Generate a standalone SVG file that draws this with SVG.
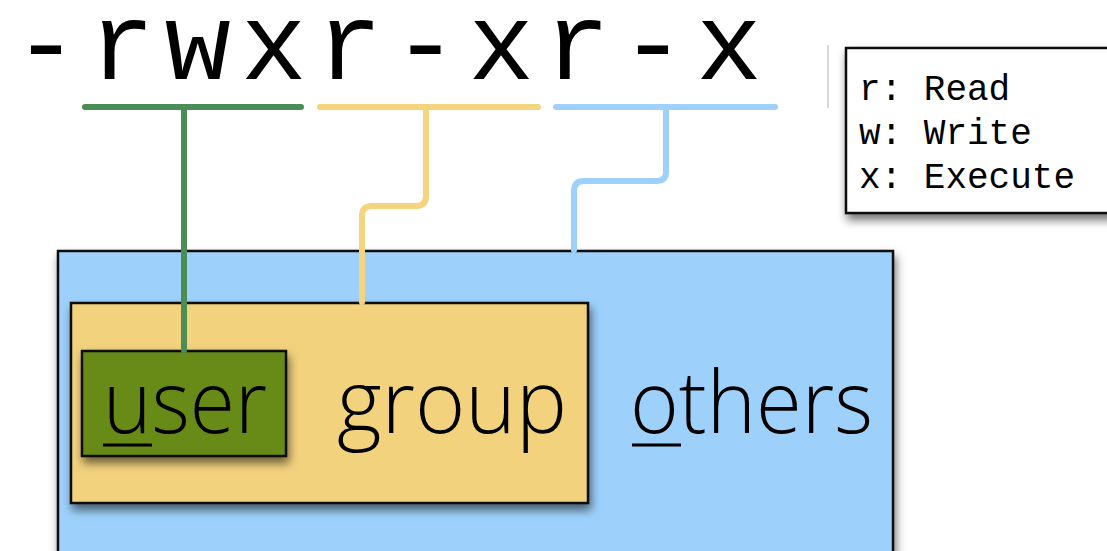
<svg xmlns="http://www.w3.org/2000/svg" width="1107" height="551" viewBox="0 0 1107 551">
<defs>
<filter id="sh" x="-10%" y="-10%" width="130%" height="140%">
<feDropShadow dx="2" dy="6" stdDeviation="5" flood-color="#000" flood-opacity="0.55"/>
</filter>
<style>
.box{stroke:#111;stroke-width:2.5}
.lbl{font-family:"Open Sans","Noto Sans",sans-serif;font-weight:300;font-size:86px;fill:#000}
.mono{font-family:"Liberation Mono","Courier New",monospace;fill:#000}
.bar{fill:none;stroke-width:6;stroke-linecap:round;stroke-linejoin:round}
.ul{stroke:#000;stroke-width:3}
</style>
</defs>
<rect width="1107" height="551" fill="#fff"/>
<text class="mono" x="13" y="79" font-size="110" textLength="749" lengthAdjust="spacing">-rwxr-xr-x</text>
<line x1="828" y1="45" x2="828" y2="108" stroke="#ccc" stroke-width="1.5"/>
<g id="legend">
<rect class="box" x="846" y="48" width="270" height="165" fill="#fff" filter="url(#sh)"/>
<text class="mono" x="859" y="100" font-size="36">r: Read</text>
<text class="mono" x="859" y="144" font-size="36">w: Write</text>
<text class="mono" x="859" y="188" font-size="36">x: Execute</text>
</g>
<g id="others">
<rect class="box" x="58" y="251" width="835" height="320" fill="#9dd1fb" filter="url(#sh)"/>
<text class="lbl" x="630" y="433" textLength="243" lengthAdjust="spacingAndGlyphs">others</text>
<line class="ul" x1="632" y1="445" x2="681" y2="445"/>
</g>
<g id="group">
<rect class="box" x="71" y="303" width="517" height="200" fill="#f2d27d" filter="url(#sh)"/>
<text class="lbl" x="337" y="433" textLength="230" lengthAdjust="spacingAndGlyphs">group</text>
</g>
<g id="user">
<rect class="box" x="82" y="351" width="204" height="105" fill="#678a16" filter="url(#sh)"/>
<text class="lbl" x="103" y="433" textLength="164" lengthAdjust="spacingAndGlyphs">user</text>
<line class="ul" x1="103" y1="445" x2="152" y2="445"/>
</g>
<g id="connectors">
<line class="bar" x1="85" y1="107" x2="301" y2="107" stroke="#4c8c55"/>
<line class="bar" x1="320" y1="107" x2="538" y2="107" stroke="#f4d47c"/>
<line class="bar" x1="556" y1="107" x2="775" y2="107" stroke="#9dd1fb"/>
<path class="bar" d="M184 107 V350" stroke="#4c8c55" stroke-linecap="butt"/>
<path class="bar" d="M426 107 V196 Q426 206 416 206 H372 Q362 206 362 216 V302" stroke="#f4d47c" stroke-linecap="butt"/>
<path class="bar" d="M666 107 V172 Q666 181 656 181 H584 Q574 181 574 191 V250" stroke="#9dd1fb" stroke-linecap="butt"/>
</g>
</svg>
